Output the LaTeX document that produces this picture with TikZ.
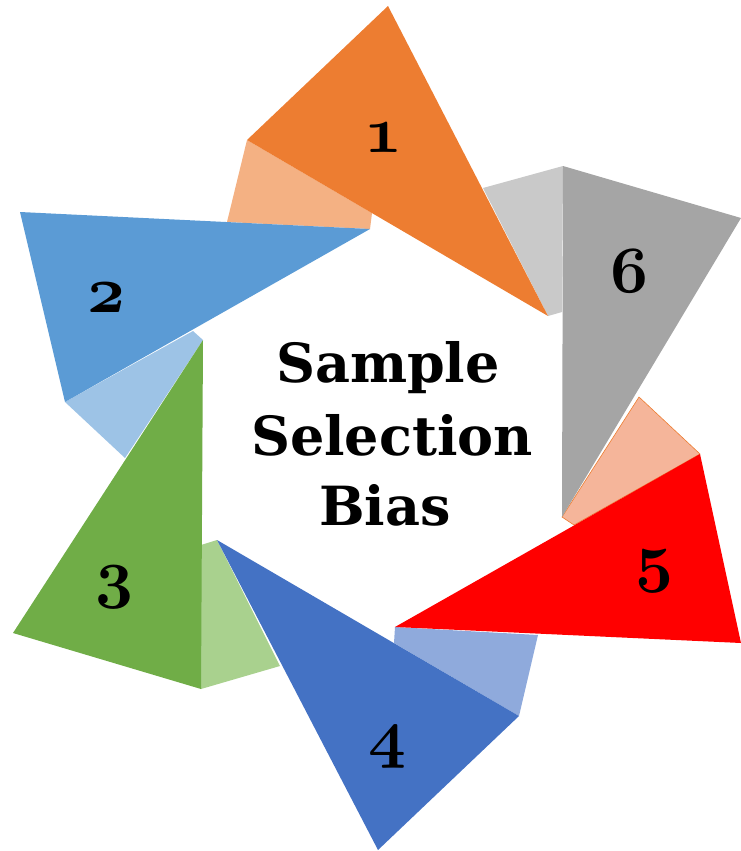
\documentclass[tikz,border=0pt]{standalone}
\usepackage{fix-cm}
\usepackage{fontspec}
\setmainfont{DejaVu Serif}
\definecolor{orangeA}{HTML}{ED7D31}
\definecolor{orangeL}{HTML}{F4B183}
\definecolor{skyA}{HTML}{5B9BD5}
\definecolor{skyL}{HTML}{9DC3E6}
\definecolor{greenA}{HTML}{70AD47}
\definecolor{greenL}{HTML}{A9D18E}
\definecolor{blueA}{HTML}{4472C4}
\definecolor{blueL}{HTML}{8FAADC}
\definecolor{redA}{HTML}{FF0000}
\definecolor{redL}{HTML}{F5B59A}
\definecolor{grayA}{HTML}{A5A5A5}
\definecolor{grayL}{HTML}{C9C9C9}
\begin{document}
\begin{tikzpicture}[x=1pt,y=-1pt,
  blade/.style={fill=#1,draw=none},
  flap/.style={fill=#1,draw=none},
  title/.style={anchor=base,inner sep=0pt,font=\fontsize{54}{60}\selectfont\bfseries},
  num/.style={inner sep=0pt,font=\fontsize{66}{72}\selectfont\boldmath}]
\useasboundingbox (0,0) rectangle (741,851);

% lighter flaps behind the blades
\fill[flap=orangeL] (247,140) -- (227,222) -- (370,229) -- (372,213) -- cycle;
\fill[flap=skyL]    (65,402) -- (125,458) -- (203,340) -- (193,331) -- cycle;
\fill[flap=greenL]  (201,545) -- (217,540) -- (280,666) -- (201,689) -- cycle;
\fill[flap=blueL]   (395,627) -- (538,635) -- (519,716) -- (394,643) -- cycle;
\filldraw[flap=redL,draw=orangeA,line width=0.6pt]
                    (639,397) -- (700,454) -- (574,525) -- (562,517) -- cycle;
\fill[flap=grayL]   (483,188) -- (563,166) -- (562,312) -- (548,316) -- cycle;

% the six blades
\fill[blade=orangeA] (388,6) -- (247,140) -- (548,316) -- cycle;
\fill[blade=skyA]    (20,212) -- (370,229) -- (65,402) -- cycle;
\fill[blade=greenA]  (203,340) -- (13,633) -- (201,689) -- cycle;
\fill[blade=blueA]   (217,540) -- (519,716) -- (378,850) -- cycle;
\fill[blade=redA]    (395,627) -- (700,454) -- (741,643) -- cycle;
\fill[blade=grayA]   (563,166) -- (741,218) -- (562,517) -- cycle;

% blade numbers (old-style figures)
\node[num] (n1) at (383,138) {$\mathnormal{1}$};
\node[num] (n2) at (106,298) {$\mathnormal{2}$};
\node[num] (n3) at (114,587) {$\mathnormal{3}$};
\node[num] (n4) at (387,747) {$\mathnormal{4}$};
\node[num] (n5) at (654,571) {$\mathnormal{5}$};
\node[num] (n6) at (629,271) {$\mathnormal{6}$};

% central title
\node[title] (t1) at (388,382) {Sample};
\node[title] (t2) at (392,455) {Selection};
\node[title] (t3) at (385,525) {Bias};
\end{tikzpicture}
\end{document}
